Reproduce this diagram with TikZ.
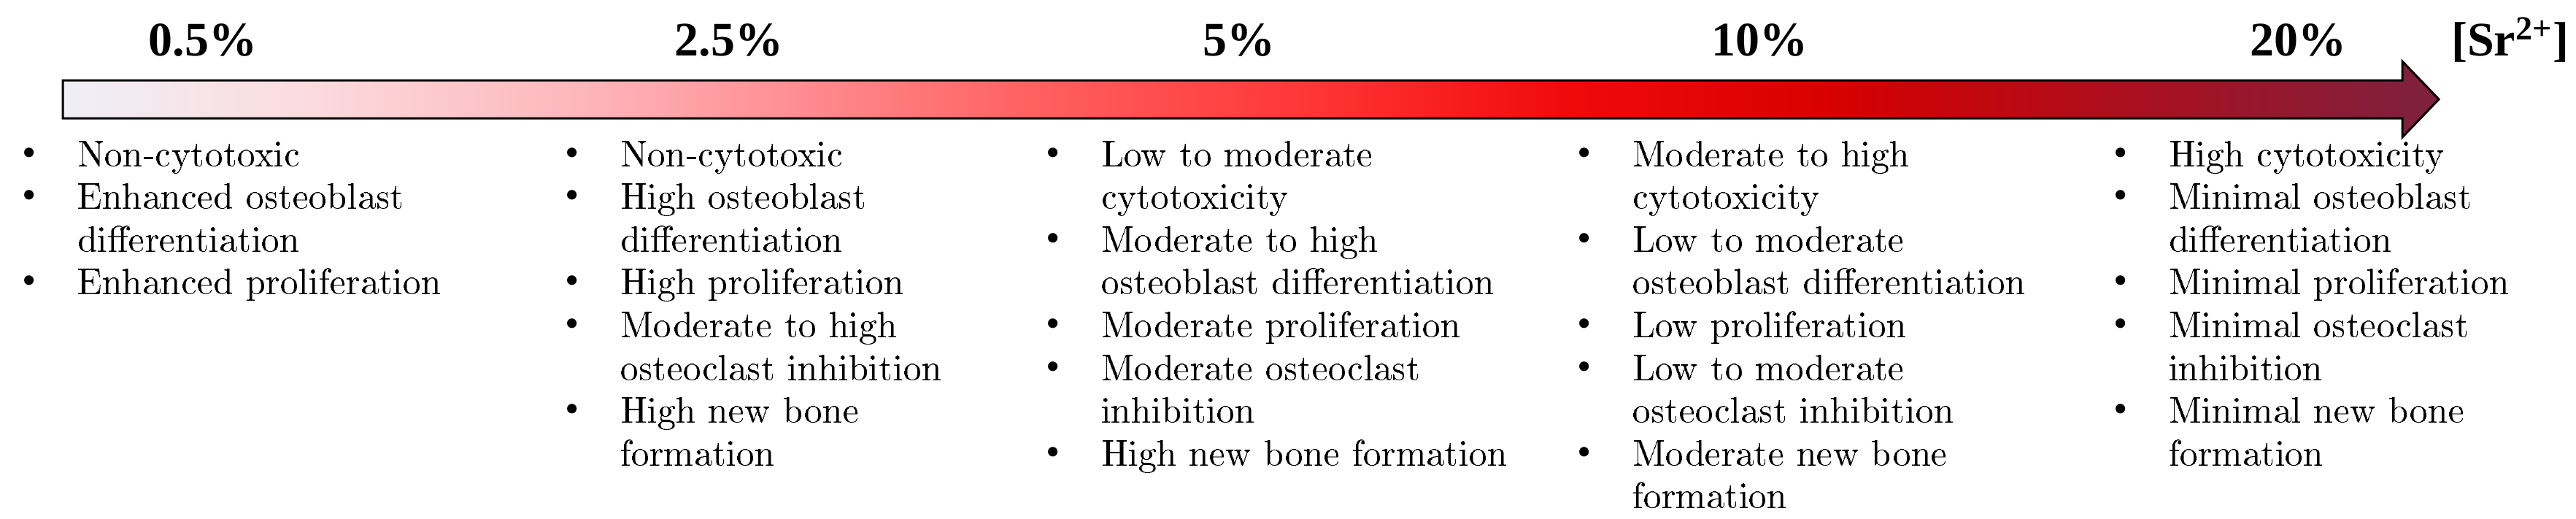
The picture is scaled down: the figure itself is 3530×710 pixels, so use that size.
\documentclass[tikz,border=0pt]{standalone}
\usepackage[T1]{fontenc}
\usepackage{fontspec}
\newfontfamily\lib{Liberation Serif}
\newcommand{\pal}{\fontencoding{T1}\fontfamily{qpl}\selectfont}
\newcommand{\bul}{\llap{{\lib\fontsize{11pt}{11pt}\selectfont •}\hspace{11.2pt}}}
\definecolor{s0}{HTML}{EFEFF6}
\definecolor{s1}{HTML}{FBDDE0}
\definecolor{s2}{HTML}{FDB6BA}
\definecolor{s3}{HTML}{FF9A9F}
\definecolor{s4}{HTML}{FF6262}
\definecolor{s5}{HTML}{FF3535}
\definecolor{s6}{HTML}{F00A0A}
\definecolor{s7}{HTML}{D80000}
\definecolor{s8}{HTML}{AC0E1C}
\definecolor{s9}{HTML}{7C2240}
\pgfdeclarehorizontalshading{arrowshade}{100bp}{color(0bp)=(s0); color(25bp)=(s0); color(29.8bp)=(s1); color(36bp)=(s2); color(39bp)=(s3); color(45.2bp)=(s4); color(51.3bp)=(s5); color(56.7bp)=(s6); color(62.1bp)=(s7); color(68.2bp)=(s8); color(75bp)=(s9); color(100bp)=(s9)}
\tikzset{
  lab/.style={anchor=base, inner sep=0pt, font=\lib\bfseries\fontsize{13.2pt}{14pt}\selectfont},
  col/.style={anchor=base west, inner sep=0pt, align=left, font=\pal\fontsize{9.7pt}{11.72pt}\selectfont},
  arrowbody/.style={shading=arrowshade, draw=black, line width=0.6pt, line join=miter}
}
\begin{document}
\begin{tikzpicture}[x=0.2pt, y=-0.2pt]
\useasboundingbox (0,0) rectangle (3530,710);
\shadedraw[arrowbody] (86,110) -- (3292,110) -- (3292,84) -- (3342,136) -- (3292,188) -- (3292,162) -- (86,162) -- cycle;
\node[lab] (p1) at (278,76) {0.5\%};
\node[lab] (p2) at (999,76) {2.5\%};
\node[lab] (p3) at (1698,76) {5\%};
\node[lab] (p4) at (2411,76) {10\%};
\node[lab] (p5) at (3149,76) {20\%};
\node[lab, anchor=base west] (sr) at (3358,76) {[Sr\textsuperscript{2+}]};
% node base = baseline of last line; first baseline at 227, line step 58.6
\node[col] (c1) at (105,402.8) {\bul Non-cytotoxic\\ \bul Enhanced osteoblast\\ differentiation\\ \bul Enhanced proliferation};
\node[col] (c2) at (849,637.2) {\bul Non-cytotoxic\\ \bul High osteoblast\\ differentiation\\ \bul High proliferation\\ \bul Moderate to high\\ osteoclast inhibition\\ \bul High new bone\\ formation};
\node[col] (c3) at (1508,637.2) {\bul Low to moderate\\ cytotoxicity\\ \bul Moderate to high\\ osteoblast differentiation\\ \bul Moderate proliferation\\ \bul Moderate osteoclast\\ inhibition\\ \bul High new bone formation};
\node[col] (c4) at (2236,695.8) {\bul Moderate to high\\ cytotoxicity\\ \bul Low to moderate\\ osteoblast differentiation\\ \bul Low proliferation\\ \bul Low to moderate\\ osteoclast inhibition\\ \bul Moderate new bone\\ formation};
\node[col] (c5) at (2971,637.2) {\bul High cytotoxicity\\ \bul Minimal osteoblast\\ differentiation\\ \bul Minimal proliferation\\ \bul Minimal osteoclast\\ inhibition\\ \bul Minimal new bone\\ formation};
\end{tikzpicture}
\end{document}
